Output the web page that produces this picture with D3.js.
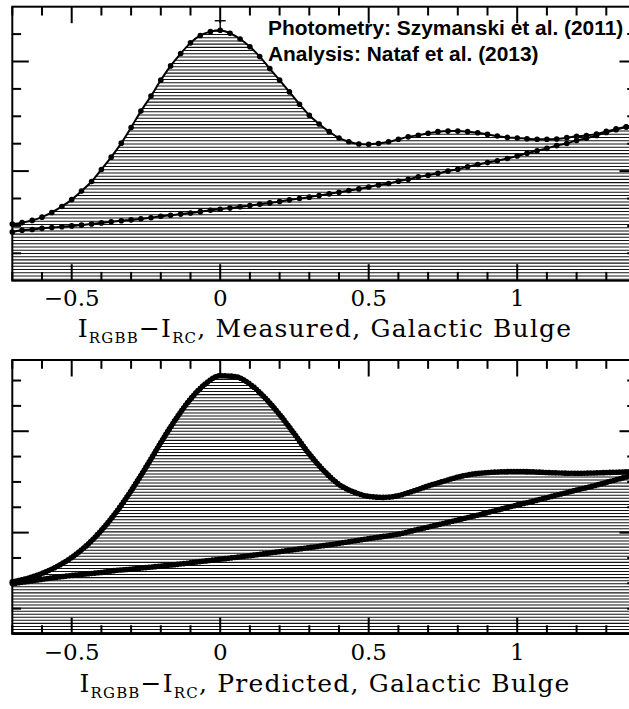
<!DOCTYPE html>
<html><head><meta charset="utf-8">
<script src="https://cdn.jsdelivr.net/npm/d3@7"></script>
<style>body{margin:0;background:#fff}svg{display:block}</style>
</head><body>
<svg id="c" width="629" height="709"></svg>
<script>
// ---------- DATA ----------
const binCenters = [-0.700,-0.667,-0.633,-0.600,-0.567,-0.533,-0.500,-0.467,-0.433,-0.400,-0.367,-0.333,-0.300,-0.267,-0.233,-0.200,-0.167,-0.133,-0.100,-0.067,-0.033,0.000,0.033,0.067,0.100,0.133,0.167,0.200,0.233,0.267,0.300,0.333,0.367,0.400,0.433,0.467,0.500,0.533,0.567,0.600,0.633,0.667,0.700,0.733,0.767,0.800,0.833,0.867,0.900,0.933,0.967,1.000,1.033,1.067,1.100,1.133,1.167,1.200,1.233,1.267,1.300,1.333,1.367,1.400];
const measuredTotal = [2.07,2.12,2.20,2.32,2.49,2.71,2.96,3.27,3.62,4.06,4.51,5.02,5.59,6.19,6.74,7.32,7.84,8.29,8.68,8.95,9.09,9.14,9.03,8.82,8.54,8.18,7.74,7.32,6.89,6.44,6.04,5.72,5.44,5.21,5.07,4.99,4.98,5.01,5.07,5.16,5.25,5.31,5.38,5.44,5.46,5.46,5.44,5.40,5.34,5.28,5.23,5.21,5.18,5.16,5.16,5.17,5.22,5.27,5.30,5.35,5.45,5.54,5.62,5.68];
const measuredComponent = [1.78,1.84,1.87,1.91,1.94,1.97,2.00,2.03,2.07,2.11,2.15,2.19,2.22,2.26,2.30,2.35,2.39,2.43,2.47,2.52,2.57,2.61,2.65,2.70,2.74,2.79,2.84,2.89,2.95,3.00,3.05,3.11,3.17,3.23,3.29,3.35,3.42,3.49,3.55,3.63,3.70,3.79,3.85,3.92,4.00,4.07,4.16,4.24,4.31,4.38,4.46,4.55,4.65,4.74,4.83,4.93,5.01,5.12,5.20,5.30,5.41,5.51,5.61,5.67];

const predGrid = [-0.70,-0.65,-0.60,-0.55,-0.50,-0.45,-0.40,-0.35,-0.30,-0.25,-0.20,-0.15,-0.10,-0.05,0.00,0.05,0.10,0.15,0.20,0.25,0.30,0.35,0.40,0.45,0.50,0.55,0.60,0.65,0.70,0.75,0.80,0.85,0.90,0.95,1.00,1.05,1.10,1.15,1.20,1.25,1.30,1.35,1.40];
const predictedTotal = [2.06,2.19,2.39,2.66,3.02,3.49,4.09,4.81,5.65,6.58,7.55,8.47,9.27,9.87,10.19,10.16,9.86,9.33,8.66,7.89,7.10,6.43,5.90,5.60,5.43,5.39,5.46,5.64,5.84,6.02,6.19,6.31,6.37,6.40,6.41,6.40,6.37,6.35,6.34,6.35,6.37,6.39,6.41];
const predictedComponent = [1.99,2.07,2.16,2.24,2.31,2.37,2.43,2.51,2.56,2.62,2.68,2.74,2.81,2.88,2.95,3.02,3.09,3.17,3.25,3.33,3.41,3.49,3.58,3.67,3.76,3.85,3.94,4.08,4.22,4.36,4.50,4.64,4.79,4.94,5.09,5.23,5.38,5.53,5.68,5.82,5.98,6.14,6.31];

const xTickValues = [-0.5, 0, 0.5, 1];
const xTickLabels = ["\u22120.5", "0", "0.5", "1"];
const panelTitles = ["Measured", "Predicted"];
const credits = ["Photometry: Szymanski et al. (2011)", "Analysis: Nataf et al. (2013)"];

// ---------- LAYOUT ----------
const svg = d3.select("#c");
const x = d3.scaleLinear().domain([-0.7, 1.4]).range([12.3, 636]);
const panels = [
  {top: 6.7, bottom: 280.7, ymax: 10, tickLab: 306, titleBase: 337, title: panelTitles[0],
   xs: binCenters, tot: measuredTotal, comp: measuredComponent, dense: false},
  {top: 360, bottom: 634, ymax: 10.81, tickLab: 660, titleBase: 692, title: panelTitles[1],
   xs: predGrid, tot: predictedTotal, comp: predictedComponent, dense: true}
];
const minorX = d3.range(-7, 15).map(i => i / 10);
const isMajorX = v => Math.abs(v * 2 - Math.round(v * 2)) < 1e-6;

panels.forEach((p, pi) => {
  const y = d3.scaleLinear().domain([0, p.ymax]).range([p.bottom, p.top]);
  const g = svg.append("g");
  const L = x.range()[0], R = x.range()[1];
  const totPts = p.xs.map((v, i) => [v, p.tot[i]]);
  const compPts = p.xs.map((v, i) => [v, p.comp[i]]);

  // hatch under total curve
  const clipId = "clip" + pi;
  const area = d3.area().x(d => x(d[0])).y0(p.bottom).y1(d => y(d[1])).curve(d3.curveMonotoneX);
  svg.append("clipPath").attr("id", clipId).append("path").attr("d", area(totPts));
  const hg = g.append("g").attr("clip-path", `url(#${clipId})`);
  const step = pi === 0 ? 3.22 : 3.05;
  hg.selectAll("line").data(d3.range(p.bottom - 1.5, p.top, -step)).join("line")
    .attr("x1", L).attr("x2", R).attr("y1", d => d).attr("y2", d => d)
    .attr("stroke", "#111").attr("stroke-width", 1.05);

  // curves
  const line = d3.line().x(d => x(d[0])).y(d => y(d[1])).curve(d3.curveMonotoneX);
  if (!p.dense) {
    [compPts, totPts].forEach(pts => {
      g.append("path").attr("d", line(pts)).attr("fill", "none").attr("stroke", "#000").attr("stroke-width", 2);
      g.selectAll(null).data(pts).join("circle")
        .attr("cx", d => x(d[0])).attr("cy", d => y(d[1])).attr("r", 2.8).attr("fill", "#000");
    });
    // error bar at the peak bin
    const ip = p.tot.indexOf(d3.max(p.tot));
    const xp = x(p.xs[ip]), yp = y(p.tot[ip]);
    g.append("line").attr("x1", xp).attr("x2", xp).attr("y1", yp).attr("y2", yp - 9.5)
      .attr("stroke", "#000").attr("stroke-width", 1.4);
    g.append("line").attr("x1", xp - 5.5).attr("x2", xp + 5.5).attr("y1", yp - 9.5).attr("y2", yp - 9.5)
      .attr("stroke", "#000").attr("stroke-width", 1.4);
  } else {
    [compPts, totPts].forEach(pts => {
      g.append("path").attr("d", line(pts)).attr("fill", "none").attr("stroke", "#000").attr("stroke-width", 4);
      g.append("path").attr("d", line(pts)).attr("fill", "none").attr("stroke", "#000")
        .attr("stroke-width", 5.6).attr("stroke-linecap", "round").attr("stroke-dasharray", "0 3.2");
    });
  }

  // frame
  g.append("rect").attr("x", L).attr("y", p.top).attr("width", R - L).attr("height", p.bottom - p.top)
    .attr("fill", "none").attr("stroke", "#000").attr("stroke-width", 2);

  // x ticks (top and bottom, inward)
  minorX.forEach(v => {
    const len = isMajorX(v) ? 16.5 : 8.8;
    const xx = x(v);
    g.append("line").attr("x1", xx).attr("x2", xx).attr("y1", p.bottom).attr("y2", p.bottom - len)
      .attr("stroke", "#000").attr("stroke-width", 2);
    g.append("line").attr("x1", xx).attr("x2", xx).attr("y1", p.top).attr("y2", p.top + len)
      .attr("stroke", "#000").attr("stroke-width", 2);
  });
  // y ticks (left and right, inward)
  d3.range(1, Math.floor(p.ymax) + 1).forEach(v => {
    const len = v % 4 === 0 ? 16.5 : 8.8;
    const yy = y(v);
    if (yy < p.top + 1) return;
    g.append("line").attr("x1", L).attr("x2", L + len).attr("y1", yy).attr("y2", yy)
      .attr("stroke", "#000").attr("stroke-width", 2);
    g.append("line").attr("x1", R).attr("x2", R - len).attr("y1", yy).attr("y2", yy)
      .attr("stroke", "#000").attr("stroke-width", 2);
  });

  // tick labels
  g.selectAll(null).data(xTickValues).join("text")
    .attr("x", d => x(d)).attr("y", p.tickLab).attr("text-anchor", "middle")
    .attr("font-family", "DejaVu Serif").attr("font-size", 23).attr("fill", "#000")
    .text((d, i) => xTickLabels[i]);

  // axis title with subscripts
  const t = g.append("text").attr("x", 325).attr("y", p.titleBase).attr("text-anchor", "middle")
    .attr("font-family", "DejaVu Serif").attr("font-size", 25).attr("letter-spacing", 1.2).attr("fill", "#000");
  t.append("tspan").text("I");
  t.append("tspan").attr("font-size", 15).attr("dy", 6).text("RGBB");
  t.append("tspan").attr("dy", -6).text("\u2212I");
  t.append("tspan").attr("font-size", 15).attr("dy", 6).text("RC");
  t.append("tspan").attr("dy", -6).text(", " + p.title + ", Galactic Bulge");
});

// credits
svg.selectAll(".cr").data(credits).join("text").attr("class", "cr")
  .attr("x", 268).attr("y", (d, i) => 35 + i * 26)
  .attr("font-family", "Liberation Sans").attr("font-weight", "bold").attr("font-size", 20.9)
  .attr("fill", "#000").text(d => d);
</script>
</body></html>
